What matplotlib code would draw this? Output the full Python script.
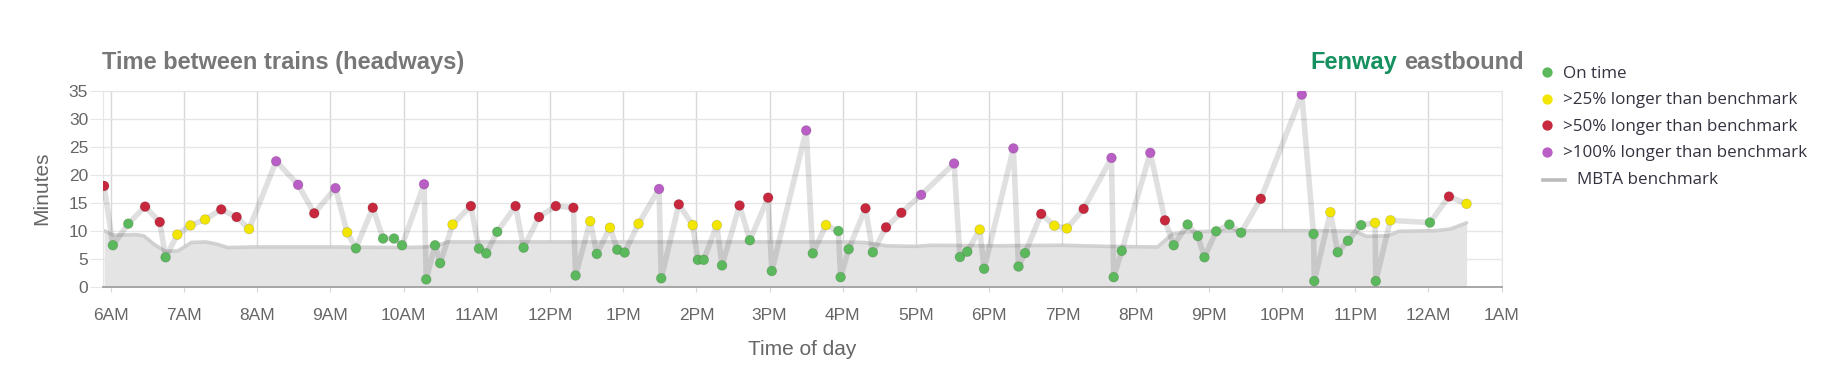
import matplotlib
matplotlib.use("Agg")
import matplotlib.pyplot as plt
from matplotlib.lines import Line2D

# time of each train (hours after midnight), headway in minutes, status 0..3
times = [5.91, 6.03, 6.24, 6.47, 6.67, 6.75, 6.91, 7.09, 7.29, 7.51,
         7.72, 7.89, 8.26, 8.56, 8.78, 9.07, 9.23, 9.35, 9.58, 9.72,
         9.87, 9.98, 10.28, 10.31, 10.43, 10.50, 10.67, 10.92, 11.03, 11.13,
         11.28, 11.53, 11.64, 11.85, 12.08, 12.32, 12.35, 12.55, 12.64, 12.82,
         12.92, 13.02, 13.21, 13.49, 13.52, 13.76, 13.95, 14.02, 14.10, 14.28,
         14.35, 14.59, 14.73, 14.98, 15.03, 15.50, 15.59, 15.77, 15.94, 15.97,
         16.08, 16.31, 16.41, 16.59, 16.80, 17.07, 17.52, 17.60, 17.70, 17.87,
         17.93, 18.33, 18.40, 18.49, 18.71, 18.89, 19.06, 19.29, 19.67, 19.70,
         19.81, 20.20, 20.40, 20.52, 20.71, 20.85, 20.94, 21.10, 21.28, 21.44,
         21.71, 22.27, 22.43, 22.44, 22.66, 22.76, 22.90, 23.08, 23.27, 23.28,
         23.48, 24.02, 24.28, 24.52]
headways = [18.0, 7.4, 11.25, 14.3, 11.55, 5.25, 9.3, 10.95, 12.0, 13.8,
            12.45, 10.3, 22.4, 18.2, 13.1, 17.6, 9.7, 6.85, 14.1, 8.6,
            8.6, 7.4, 18.3, 1.3, 7.4, 4.2, 11.1, 14.4, 6.8, 5.95,
            9.8, 14.4, 6.97, 12.45, 14.4, 14.1, 2.0, 11.7, 5.85, 10.55,
            6.6, 6.1, 11.25, 17.45, 1.5, 14.7, 11.0, 4.8, 4.8, 11.0,
            3.8, 14.5, 8.3, 15.9, 2.8, 27.9, 5.95, 11.0, 9.95, 1.7,
            6.7, 14.0, 6.15, 10.6, 13.2, 16.4, 22.0, 5.3, 6.25, 10.2,
            3.2, 24.7, 3.6, 6.0, 13.0, 10.9, 10.4, 13.9, 23.0, 1.7,
            6.4, 23.9, 11.85, 7.4, 11.1, 9.05, 5.25, 9.9, 11.1, 9.65,
            15.7, 34.3, 9.4, 1.0, 13.3, 6.15, 8.2, 11.0, 11.4, 1.0,
            11.85, 11.45, 16.1, 14.8]
status = [2, 0, 0, 2, 2, 0, 1, 1, 1, 2,
          2, 1, 3, 3, 2, 3, 1, 0, 2, 0,
          0, 0, 3, 0, 0, 0, 1, 2, 0, 0,
          0, 2, 0, 2, 2, 2, 0, 1, 0, 1,
          0, 0, 1, 3, 0, 2, 1, 0, 0, 1,
          0, 2, 0, 2, 0, 3, 0, 1, 0, 0,
          0, 2, 0, 2, 2, 3, 3, 0, 0, 1,
          0, 3, 0, 0, 2, 1, 1, 2, 3, 0,
          0, 3, 2, 0, 0, 0, 0, 0, 0, 0,
          2, 3, 0, 0, 1, 0, 0, 0, 1, 0,
          1, 0, 2, 1]

# MBTA benchmark headway
bench_times = [5.91, 6.03, 6.35, 6.45, 6.6, 6.75, 6.92, 7.1, 7.3, 7.45, 7.6, 8.0,
               9.0, 10.0, 10.3, 10.45, 10.6, 11.0, 16.0, 16.3, 16.6, 17.0, 17.2,
               18.0, 19.0, 19.6, 20.3, 20.5, 20.7, 21.5, 22.5, 23.0, 23.15,
               23.45, 23.6, 24.1, 24.3, 24.52]
bench_values = [10.0, 9.2, 9.3, 9.1, 7.5, 6.3, 6.4, 7.9, 8.0, 7.6, 7.0, 7.1,
                7.1, 7.0, 7.1, 7.3, 8.0, 8.0, 8.0, 7.9, 7.3, 7.2, 7.4,
                7.3, 7.4, 7.2, 7.1, 9.4, 9.8, 10.0, 10.0, 9.9, 9.0,
                9.1, 9.9, 10.0, 10.3, 11.4]

hour_ticks = list(range(6, 26))
hour_labels = ["6AM", "7AM", "8AM", "9AM", "10AM", "11AM", "12PM", "1PM", "2PM",
               "3PM", "4PM", "5PM", "6PM", "7PM", "8PM", "9PM", "10PM", "11PM",
               "12AM", "1AM"]

status_names = ["On time", ">25% longer than benchmark",
                ">50% longer than benchmark", ">100% longer than benchmark"]
status_colors = ["#5cb85c", "#f2e600", "#c7283d", "#b95ec4"]

W, H = 1828, 373
fig = plt.figure(figsize=(W / 100, H / 100), dpi=100)
ax = fig.add_axes([103.3 / W, 86.3 / H, 1398.4 / W, 196 / H])

ax.fill_between(bench_times, bench_values, 0, color="#e4e4e4", lw=0, zorder=1)
ax.plot(bench_times, bench_values, color="#c8c8c8", lw=2.6, alpha=0.8,
        solid_capstyle="round", zorder=2)
ax.plot(times, headways, color="black", alpha=0.12, lw=4,
        solid_joinstyle="round", zorder=3)
ax.scatter(times, headways, c=[status_colors[s] for s in status], s=50,
           edgecolors="#00000022", linewidths=0.6, zorder=4)

ax.set_xlim(5.899, 25.0)
ax.set_ylim(0, 35)
ax.set_yticks(range(0, 36, 5))
ax.set_xticks(hour_ticks)
ax.set_xticklabels(hour_labels)
ax.set_axisbelow(True)
ax.grid(axis="y", color="#e6e6e6", lw=1)
ax.grid(axis="x", color="#d8d8d8", lw=1)

for lab in ax.get_xticklabels() + ax.get_yticklabels():
    lab.set_family("Liberation Sans")
ax.tick_params(axis="y", length=9.4, color="#e6e6e6", labelcolor="#666666",
               labelsize=12.5, pad=1.5)
ax.tick_params(axis="x", length=3.6, color="#d8d8d8", labelcolor="#666666",
               labelsize=12.5, pad=11.5)

for side in ["top", "left", "right"]:
    ax.spines[side].set_color("#e6e6e6")
ax.spines["bottom"].set_color("#a0a0a0")
ax.spines["bottom"].set_linewidth(1.3)

ax.set_ylabel("Minutes", fontsize=15, color="#666666", family="Liberation Sans")
ax.yaxis.set_label_coords(-0.044, 0.5)
ax.yaxis.label.set_va("center")
ax.set_xlabel("Time of day", fontsize=15, color="#666666", family="Liberation Sans")
ax.xaxis.set_label_coords(0.5, -0.32)
ax.xaxis.label.set_va("center")

# titles
base_y = (H - 69.3) / H
fig.text(101.7 / W, base_y, "Time between trains (headways)", fontsize=17,
         fontweight="bold", color="#777777", family="Liberation Sans",
         ha="left", va="baseline")
t_east = fig.text(1523.5 / W, base_y, "eastbound", fontsize=17, fontweight="bold",
                  color="#777777", family="Liberation Sans", ha="right", va="baseline")
renderer = fig.canvas.get_renderer()
east_box = t_east.get_window_extent(renderer)
fig.text((east_box.x0 - 6.6) / W, base_y, "Fenway", fontsize=17, fontweight="bold",
         color="#15915f", family="Liberation Sans", ha="right", va="baseline")

# legend
row_y = [72, 98.7, 125.3, 152, 178.7]
for name, col, ry in zip(status_names, status_colors, row_y):
    fig.add_artist(Line2D([1547 / W], [(H - ry) / H], marker="o", ms=6.4,
                          color=col, mec=col, lw=0, transform=fig.transFigure))
    fig.text(1563 / W, (H - ry - 5.5) / H, name, fontsize=12.25, color="#333340",
             family="Open Sans", ha="left", va="baseline")
fig.add_artist(Line2D([1543 / W, 1565 / W], [(H - row_y[4] - 1) / H] * 2, lw=2.6,
                      color="#bbbbbb", transform=fig.transFigure))
fig.text(1577 / W, (H - row_y[4] - 5.5) / H, "MBTA benchmark", fontsize=12.25,
         color="#333340", family="Open Sans", ha="left", va="baseline")

fig.savefig("out.png", dpi=100)
